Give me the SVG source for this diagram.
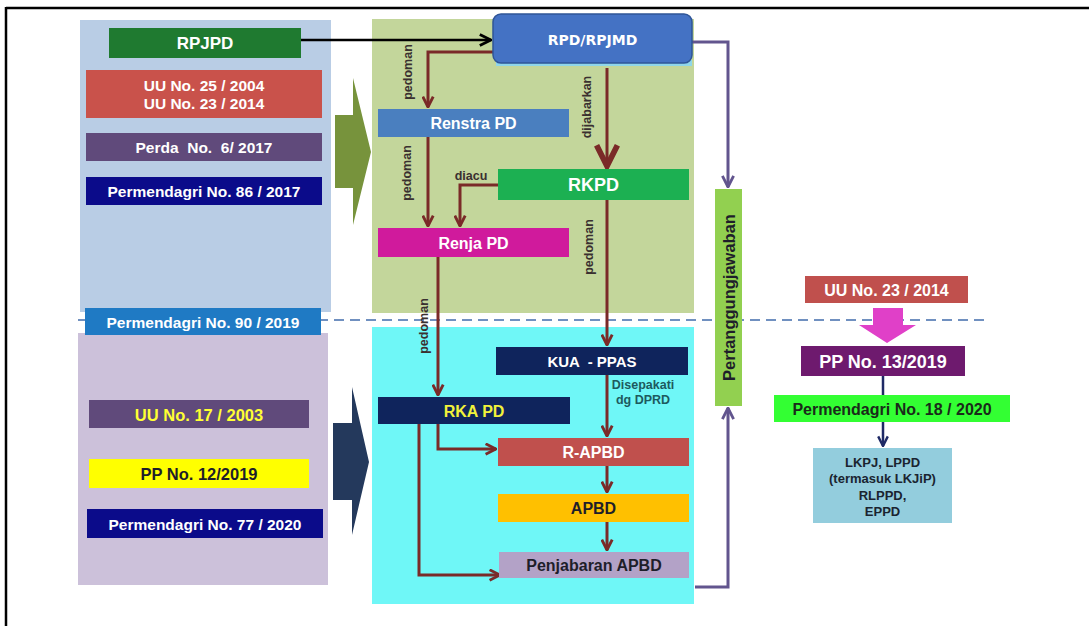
<svg xmlns="http://www.w3.org/2000/svg" width="1089" height="626" viewBox="0 0 1089 626">
<style>
text{font-family:"Liberation Sans",Arial,sans-serif;font-weight:bold;text-anchor:middle;dominant-baseline:central}
.w{fill:#ffffff}
.k{fill:#1e1e2a}
.lbl{font-size:12.5px;fill:#3a3030}
.br{fill:none;stroke:#7a2a28;stroke-width:3}
.pu{fill:none;stroke:#62558e;stroke-width:3}
</style>
<defs>
<marker id="mb" viewBox="0 0 10 10" refX="9" refY="5" markerWidth="13" markerHeight="13" markerUnits="userSpaceOnUse" orient="auto"><path d="M1,1 L9,5 L1,9" fill="none" stroke="#7a2a28" stroke-width="2.2"/></marker>
<marker id="mbb" viewBox="0 0 10 10" refX="9" refY="5" markerWidth="26" markerHeight="26" markerUnits="userSpaceOnUse" orient="auto"><path d="M1,1 L9,5 L1,9" fill="none" stroke="#7a2a28" stroke-width="2.2"/></marker>
<marker id="mk" viewBox="0 0 10 10" refX="9" refY="5" markerWidth="14" markerHeight="14" markerUnits="userSpaceOnUse" orient="auto"><path d="M1,1 L9,5 L1,9" fill="none" stroke="#000" stroke-width="2"/></marker>
<marker id="mp" viewBox="0 0 10 10" refX="9" refY="5" markerWidth="14" markerHeight="14" markerUnits="userSpaceOnUse" orient="auto"><path d="M1,1 L9,5 L1,9" fill="none" stroke="#62558e" stroke-width="2"/></marker>
<marker id="mn" viewBox="0 0 10 10" refX="9" refY="5" markerWidth="12" markerHeight="12" markerUnits="userSpaceOnUse" orient="auto"><path d="M1,1 L9,5 L1,9" fill="none" stroke="#1f2a66" stroke-width="2"/></marker>
</defs>
<rect x="0" y="0" width="1089" height="626" fill="#ffffff"/>
<line x1="6" y1="8" x2="1089" y2="8" stroke="#000" stroke-width="2.5"/>
<line x1="6" y1="7" x2="6" y2="626" stroke="#000" stroke-width="2.5"/>

<g id="panels">
<rect x="80" y="20" width="251" height="292" fill="#b9cde5"/>
<rect x="78" y="333" width="250" height="252" fill="#ccc1da"/>
<rect x="372" y="19" width="322" height="294" fill="#c3d69b"/>
<rect x="372" y="327" width="322" height="277" fill="#6ff7f7"/>
</g>
<line x1="78" y1="320" x2="985" y2="320" stroke="#7090c0" stroke-width="2" stroke-dasharray="10 6"/>

<g id="big-arrows">
<polygon id="arrow-green" points="335,115 353,115 353,78 371,152 353,225 353,188 335,188" fill="#77933c"/>
<polygon id="arrow-navy" points="333,423 352,423 352,387 369,462 352,535 352,500 333,500" fill="#24395c"/>
<polygon id="arrow-magenta" points="873,308 903,308 903,325 916,325 887,343 859,325 873,325" fill="#e040c8"/>
</g>

<g id="connectors">
<path d="M301,40 H491" fill="none" stroke="#000" stroke-width="2.5" marker-end="url(#mk)"/>
<path class="pu" d="M692,42 H728 V187" marker-end="url(#mp)"/>
<path class="pu" d="M695,587 H728 V408" marker-end="url(#mp)"/>
<path class="br" d="M493,52 H428 V107" marker-end="url(#mb)"/>
<path class="br" d="M428,137 V226" marker-end="url(#mb)"/>
<path class="br" d="M498,185 H460 V226" marker-end="url(#mb)"/>
<path class="br" d="M607,68 V166" stroke-width="5" marker-end="url(#mbb)"/>
<path class="br" d="M607,200 V345" marker-end="url(#mb)"/>
<path class="br" d="M438,257 V395" marker-end="url(#mb)"/>
<path class="br" d="M607,375 V436" marker-end="url(#mb)"/>
<path class="br" d="M438,424 V449 H496" marker-end="url(#mb)"/>
<path class="br" d="M419,424 V575 H500" marker-end="url(#mb)"/>
<path class="br" d="M607,466 V492" marker-end="url(#mb)"/>
<path class="br" d="M607,522 V550" marker-end="url(#mb)"/>
<path d="M883,376 V395" fill="none" stroke="#1f2a66" stroke-width="2.5"/>
<path d="M883,422 V446" fill="none" stroke="#1f2a66" stroke-width="2.5" marker-end="url(#mn)"/>
</g>

<g id="edge-labels">
<text class="lbl" transform="translate(408,72) rotate(-90)">pedoman</text>
<text class="lbl" transform="translate(407,173) rotate(-90)">pedoman</text>
<text class="lbl" transform="translate(587,107) rotate(-90)">dijabarkan</text>
<text class="lbl" transform="translate(589,247) rotate(-90)">pedoman</text>
<text class="lbl" transform="translate(424,326) rotate(-90)">pedoman</text>
<text class="lbl" x="471" y="176" font-size="13">diacu</text>
<text x="643" y="385" font-size="12.5" fill="#1d5a5e">Disepakati</text>
<text x="643" y="400" font-size="12.5" fill="#1d5a5e">dg DPRD</text>
</g>

<g id="n-rpjpd"><rect x="109" y="28" width="192" height="30" fill="#1f7a30"/><text class="w" x="205" y="43.5" font-size="17">RPJPD</text></g>
<g id="n-uu25"><rect x="86" y="70" width="236" height="48" fill="#c9524b"/><text class="w" x="204" y="85" font-size="15.5">UU No. 25 / 2004</text><text class="w" x="204" y="103" font-size="15.5">UU No. 23 / 2014</text></g>
<g id="n-perda"><rect x="86" y="133" width="236" height="28" fill="#604a7b"/><text class="w" x="204" y="147.5" font-size="15.5" xml:space="preserve">Perda  No.  6/ 2017</text></g>
<g id="n-perm86"><rect x="86" y="177" width="236" height="28" fill="#0b0b8a"/><text class="w" x="204" y="191.5" font-size="15.5">Permendagri No. 86 / 2017</text></g>
<g id="n-perm90"><rect x="85" y="308" width="236" height="27" fill="#1f7ac4"/><text class="w" x="203" y="322" font-size="15.5">Permendagri No. 90 / 2019</text></g>
<g id="n-uu17"><rect x="89" y="400" width="220" height="28" fill="#604a7b"/><text x="199" y="414.5" font-size="16.5" fill="#ffff33">UU No. 17 / 2003</text></g>
<g id="n-pp12"><rect x="89" y="459" width="220" height="29" fill="#ffff00"/><text class="k" x="199" y="474" font-size="16.5">PP No. 12/2019</text></g>
<g id="n-perm77"><rect x="87" y="509" width="236" height="29" fill="#0b0b8a"/><text class="w" x="205" y="524" font-size="15.5">Permendagri No. 77 / 2020</text></g>

<g id="n-rpd"><rect x="496" y="60" width="196" height="6" fill="#8fd6ea"/><rect x="493" y="14" width="199" height="49" rx="8" fill="#4472c4" stroke="#2f5597" stroke-width="1.5"/><text class="w" x="592.5" y="40" font-size="14" style="font-family:'DejaVu Sans',Verdana,sans-serif">RPD/RPJMD</text></g>
<g id="n-renstra"><rect x="378" y="109" width="191" height="28" fill="#4a7fbf"/><text class="w" x="473.5" y="123.5" font-size="16">Renstra PD</text></g>
<g id="n-rkpd"><rect x="498" y="169" width="191" height="31" fill="#1cb052"/><text class="w" x="593.5" y="185" font-size="18">RKPD</text></g>
<g id="n-renja"><rect x="378" y="228" width="191" height="29" fill="#d01a9c"/><text class="w" x="473.5" y="243" font-size="16">Renja PD</text></g>
<g id="n-kua"><rect x="496" y="347" width="192" height="28" fill="#0f245c"/><text class="w" x="592" y="361.5" font-size="15" xml:space="preserve">KUA  - PPAS</text></g>
<g id="n-rka"><rect x="378" y="397" width="192" height="27" fill="#0f245c"/><text x="474" y="411" font-size="16" fill="#f2f23a">RKA PD</text></g>
<g id="n-rapbd"><rect x="498" y="438" width="191" height="28" fill="#c0504d"/><text class="w" x="593.5" y="452.5" font-size="16">R-APBD</text></g>
<g id="n-apbd"><rect x="498" y="494" width="191" height="28" fill="#ffc000"/><text class="k" x="593.5" y="508.5" font-size="16">APBD</text></g>
<g id="n-penjabaran"><rect x="499" y="552" width="190" height="26" fill="#b3a2c7"/><text class="k" x="594" y="565.5" font-size="16">Penjabaran APBD</text></g>
<g id="n-pertanggungjawaban"><rect x="715" y="189" width="27" height="217" fill="#92d050"/><text class="k" transform="translate(729,297.5) rotate(-90)" font-size="16.5" fill="#1e2a1e">Pertanggungjawaban</text></g>

<g id="n-uu23"><rect x="805" y="276" width="163" height="27" fill="#c0504d"/><text class="w" x="886.5" y="290" font-size="16">UU No. 23 / 2014</text></g>
<g id="n-pp13"><rect x="801" y="346" width="164" height="30" fill="#6e1a6e"/><text class="w" x="883" y="361.5" font-size="18">PP No. 13/2019</text></g>
<g id="n-perm18"><rect x="774" y="395" width="236" height="27" fill="#33ff33"/><text x="892" y="409" font-size="16" fill="#1a2a1a">Permendagri No. 18 / 2020</text></g>
<g id="n-lkpj"><rect x="813" y="448" width="139" height="75" fill="#93cddd"/>
<text x="882.5" y="462" font-size="13" fill="#1a2430">LKPJ, LPPD</text>
<text x="882.5" y="478.5" font-size="13" fill="#1a2430">(termasuk LKJiP)</text>
<text x="882.5" y="495" font-size="13" fill="#1a2430">RLPPD,</text>
<text x="882.5" y="511" font-size="13" fill="#1a2430">EPPD</text></g>
</svg>
